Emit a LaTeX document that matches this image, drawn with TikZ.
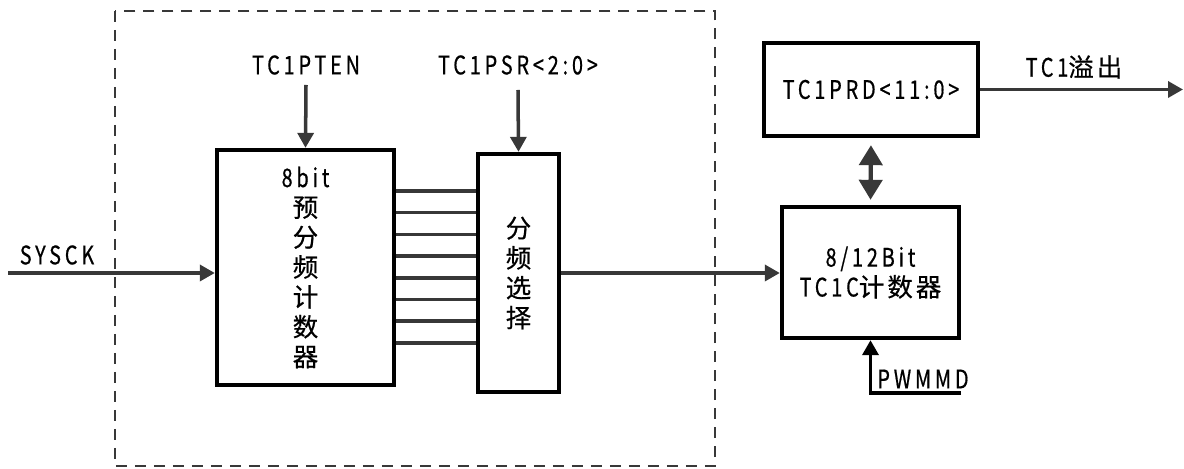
\documentclass[tikz,border=0pt]{standalone}
\usepackage{fontspec}
\setmainfont{Noto Sans CJK SC}[FakeStretch=0.78,LetterSpace=15,FakeBold=0.6]
\newfontfamily\cjk{Noto Sans CJK SC}[LetterSpace=12,FakeBold=0.6]
\usetikzlibrary{arrows.meta,calc}
\definecolor{linegray}{HTML}{383838}
\tikzset{
  blk/.style={draw=black, line width=2.5pt, align=center, inner sep=0pt, font=\fontsize{14.5}{17}\selectfont},
  lbl/.style={font=\fontsize{14.5}{17}\selectfont, inner sep=0pt},
  sig/.style={draw=linegray, line width=2pt, -{Triangle[length=0.3cm,width=0.32cm]}},
  bus/.style={draw=linegray, line width=2pt},
}
\begin{document}
\begin{tikzpicture}[x=0.02cm, y=-0.02cm]
    \useasboundingbox (0,0) rectangle (1184,469);
    \draw[linegray, line width=1.2pt, dash pattern=on 0.22cm off 0.16cm] (115,11) rectangle (715,466);
    \node[blk, minimum width=3.54cm, minimum height=4.7cm] (cnt) at (305.5,267.5) {8bit\\{\cjk 预}\\{\cjk 分}\\{\cjk 频}\\{\cjk 计}\\{\cjk 数}\\{\cjk 器}};
    \node[blk, minimum width=1.62cm, minimum height=4.76cm] (sel) at (518.5,273) {{\cjk 分}\\{\cjk 频}\\{\cjk 选}\\{\cjk 择}};
    \node[blk, minimum width=4.28cm, minimum height=1.86cm] (prd) at (871,89.5) {TC1PRD<11:0>};
    \node[blk, minimum width=3.54cm, minimum height=2.62cm] (tcc) at (870.5,272.5) {8/12Bit\\TC1C{\cjk 计数器}};
    \node[lbl] (pten) at (306,65) {TC1PTEN}; \node[lbl] (psr) at (518,65) {TC1PSR<2:0>};
    \node[lbl] (sysck) at (57,255) {SYSCK}; \node[lbl] (ovf) at (1074,67) {TC1{\cjk 溢出}};
    \node[lbl] (pwmmd) at (923,379) {PWMMD};
    \coordinate (sysin) at (8,273); \coordinate (ovfout) at (1183,89); \coordinate (pwin) at (961,393);
    \draw[sig] ($(pten)+(0,20)$) -- (cnt.north);
    \draw[sig] ($(psr)+(0,25)$) -- (sel.north);
    \draw[sig] (sysin) -- (sysin -| cnt.west);
    \draw[sig] (sel.east) -- (sel.east -| tcc.west);
    \draw[sig] (prd.east) -- (prd.east -| ovfout);
    % eight taps of the prescaler
    \foreach \i in {0,...,7} {\coordinate (tap) at (0,{191+21.7*\i}); \draw[bus] (cnt.east |- tap) -- (sel.west |- tap);}
    \draw[linegray, line width=2.5pt, {Triangle[length=0.4cm,width=0.46cm]}-{Triangle[length=0.4cm,width=0.46cm]}, shorten <=0.14cm, shorten >=0.1cm] (prd.south) -- (tcc.north);
    \draw[black, line width=2pt, -{Triangle[length=0.3cm,width=0.32cm]}] (pwin) -- (pwin -| tcc.south) -- (tcc.south);
\end{tikzpicture}
\end{document}
